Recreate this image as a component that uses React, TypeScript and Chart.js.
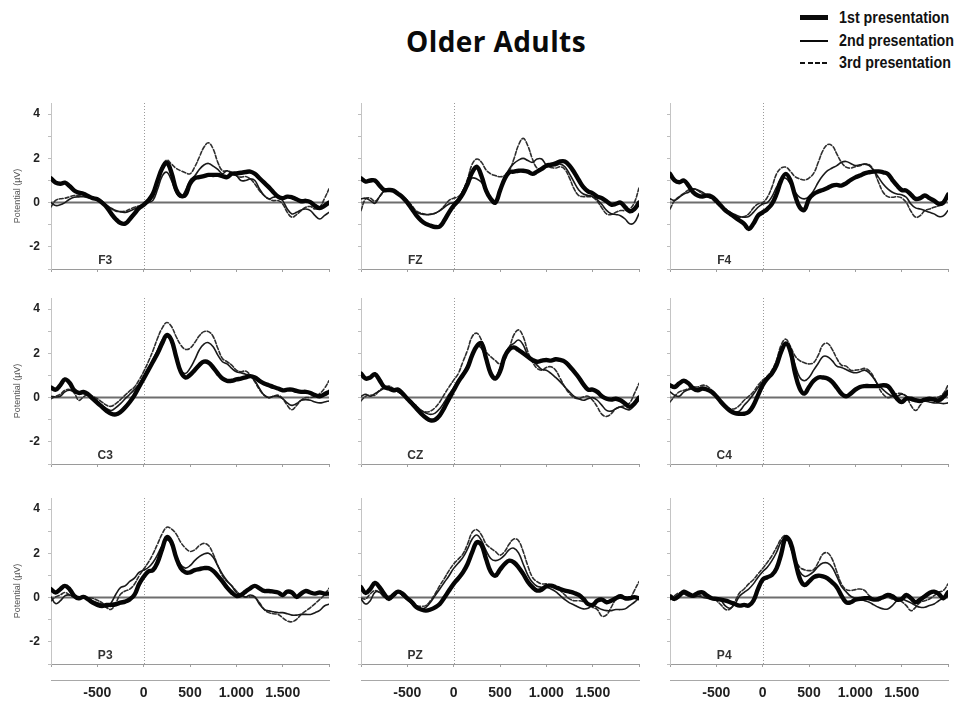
import React, { useEffect, useRef } from "react";
import { Chart, registerables } from "chart.js";

Chart.register(...registerables);

// ---------- DATA ----------
const TIMES_MS = [
  -1000, -950, -900, -850, -800, -750, -700, -650, -600, -550,
  -500, -450, -400, -350, -300, -250, -200, -150, -100, -50,
  0, 50, 100, 150, 200, 250, 300, 350, 400, 450,
  500, 550, 600, 650, 700, 750, 800, 850, 900, 950,
  1000, 1050, 1100, 1150, 1200, 1250, 1300, 1350, 1400, 1450,
  1500, 1550, 1600, 1650, 1700, 1750, 1800, 1850, 1900, 1950,
  2000,
];

const SERIES_LABELS = ["1st presentation", "2nd presentation", "3rd presentation"];
const TITLE = "Older Adults";
const Y_TITLE = "Potential (µV)";
const Y_TICK_VALUES = [4, 2, 0, -2];
const Y_TICK_LABELS = ["4", "2", "0", "-2"];
const X_TICK_VALUES = [-500, 0, 500, 1000, 1500];
const X_TICK_LABELS = ["-500", "0", "500", "1.000", "1.500"];
const ELECTRODES = ["F3", "FZ", "F4", "C3", "CZ", "C4", "P3", "PZ", "P4"];

const F3_1ST = [1.1,0.9,0.85,0.9,0.75,0.55,0.45,0.4,0.3,0.2, 0.15,0.0,-0.2,-0.5,-0.75,-0.92,-0.95,-0.75,-0.5,-0.25, -0.1,0.1,0.4,1.0,1.55,1.8,1.35,0.6,0.3,0.35, 0.85,1.1,1.15,1.2,1.25,1.25,1.25,1.2,1.15,1.3, 1.32,1.35,1.38,1.4,1.3,1.1,0.9,0.7,0.47,0.27, 0.2,0.27,0.24,0.15,0.06,0.08,0.02,-0.15,-0.25,-0.15, 0.0];
const F3_2ND = [0.0,-0.13,-0.1,0.0,0.15,0.24,0.26,0.27,0.22,0.18, 0.15,0.05,-0.13,-0.25,-0.36,-0.42,-0.44,-0.38,-0.29,-0.2, -0.1,0.0,0.1,0.6,1.2,1.37,1.0,0.47,0.24,0.54, 1.0,1.2,1.5,1.7,1.77,1.65,1.5,1.3,1.44,1.3, 1.22,1.0,1.0,1.07,1.0,0.62,0.32,0.17,0.24,0.27, 0.09,-0.29,-0.51,-0.44,-0.33,-0.29,-0.36,-0.59,-0.74,-0.59, -0.44];
const F3_3RD = [-0.2,0.1,0.17,0.2,0.26,0.32,0.33,0.36,0.3,0.22, 0.17,0.05,-0.13,-0.28,-0.39,-0.4,-0.39,-0.3,-0.21,-0.15, -0.09,0.05,0.24,0.92,1.67,1.92,1.74,1.55,1.44,1.35, 1.3,1.6,2.05,2.5,2.7,2.42,1.82,1.44,1.44,1.37, 1.22,1.15,1.18,1.07,0.84,0.54,0.32,0.17,0.09,0.09, -0.06,-0.44,-0.66,-0.54,-0.36,-0.21,-0.18,-0.29,-0.21,0.17, 0.62];

const FZ_1ST = [1.1,0.95,1.0,1.0,0.77,0.57,0.57,0.54,0.4,0.24, 0.0,-0.29,-0.59,-0.81,-0.96,-1.04,-1.1,-1.08,-0.8,-0.44, -0.14,0.09,0.4,0.84,1.37,1.62,1.2,0.54,0.17,0.0, 0.54,1.07,1.37,1.4,1.44,1.44,1.4,1.3,1.4,1.52, 1.67,1.71,1.77,1.86,1.86,1.67,1.37,1.02,0.7,0.51, 0.42,0.27,0.2,0.06,-0.09,-0.06,0.0,-0.2,-0.39,-0.29, 0.0];
const FZ_2ND = [0.17,0.2,0.09,-0.03,0.27,0.54,0.62,0.57,0.42,0.24, 0.0,-0.24,-0.44,-0.51,-0.54,-0.54,-0.48,-0.36,-0.21,-0.06, 0.0,0.17,0.54,0.92,1.11,1.07,0.92,0.54,0.2,0.09, 0.54,1.11,1.52,1.77,1.92,2.0,1.9,1.82,1.97,1.97, 1.7,1.67,1.67,1.74,1.62,1.3,0.92,0.57,0.39,0.32, 0.27,0.12,-0.09,-0.35,-0.5,-0.54,-0.59,-0.74,-0.96,-0.9, -0.5];
const FZ_3RD = [-0.36,0.17,0.2,0.06,0.27,0.5,0.6,0.54,0.42,0.27, 0.1,-0.14,-0.39,-0.48,-0.54,-0.52,-0.48,-0.36,-0.14,0.1, 0.2,0.27,0.54,1.07,1.74,1.97,1.82,1.47,1.3,1.22, 1.17,1.22,1.44,1.97,2.6,2.9,2.57,1.97,1.56,1.53, 1.62,1.59,1.56,1.62,1.5,1.11,0.62,0.32,0.27,0.27, 0.24,0.06,-0.24,-0.51,-0.54,-0.44,-0.36,-0.36,-0.29,0.0, 0.66];

const F4_1ST = [1.3,1.0,0.92,1.0,0.77,0.47,0.32,0.27,0.32,0.27, 0.09,-0.14,-0.36,-0.51,-0.66,-0.81,-0.96,-1.19,-0.96,-0.59, -0.44,-0.29,-0.06,0.39,1.0,1.3,1.0,0.32,-0.21,-0.33, 0.17,0.39,0.5,0.57,0.66,0.77,0.8,0.77,0.87,1.02, 1.14,1.22,1.32,1.37,1.4,1.41,1.37,1.3,1.02,0.77, 0.57,0.54,0.36,0.17,0.2,0.32,0.2,0.09,-0.06,0.0, 0.36];
const F4_2ND = [0.17,0.1,0.24,0.39,0.47,0.62,0.57,0.47,0.32,0.2, 0.0,-0.14,-0.29,-0.44,-0.54,-0.63,-0.66,-0.63,-0.44,-0.21, -0.06,0.0,0.27,0.7,1.07,1.1,0.84,0.47,0.24,0.17, 0.27,0.54,0.92,1.22,1.44,1.56,1.67,1.82,1.86,1.77, 1.67,1.71,1.74,1.67,1.44,1.14,0.84,0.62,0.47,0.39, 0.36,0.24,-0.06,-0.24,-0.29,-0.36,-0.44,-0.51,-0.63,-0.6, -0.36];
const F4_3RD = [-0.29,0.09,0.27,0.42,0.57,0.62,0.54,0.39,0.27,0.17, -0.03,-0.21,-0.39,-0.54,-0.63,-0.66,-0.63,-0.51,-0.24,-0.06, 0.0,0.24,0.7,1.3,1.56,1.6,1.41,1.17,1.07,1.02, 1.11,1.32,1.82,2.35,2.62,2.57,2.2,1.82,1.6,1.56, 1.62,1.67,1.74,1.71,1.44,0.92,0.47,0.27,0.24,0.27, 0.21,0.0,-0.39,-0.66,-0.59,-0.36,-0.29,-0.21,-0.14,0.0, 0.39];

const C3_1ST = [0.45,0.36,0.56,0.82,0.67,0.33,0.21,0.26,0.15,-0.05, -0.24,-0.42,-0.6,-0.73,-0.76,-0.65,-0.45,-0.2,0.1,0.48, 0.86,1.24,1.62,2.0,2.45,2.83,2.6,1.85,1.17,0.91, 1.02,1.24,1.47,1.62,1.58,1.36,1.09,0.86,0.76,0.76, 0.82,0.86,0.91,0.97,0.91,0.76,0.64,0.56,0.48,0.41, 0.33,0.36,0.36,0.3,0.26,0.26,0.21,0.11,0.06,0.15, 0.26];
const C3_2ND = [0.06,0.03,0.06,0.26,0.33,0.26,0.18,0.18,0.11,0.0, -0.15,-0.35,-0.5,-0.58,-0.45,-0.27,-0.05,0.15,0.36,0.6, 0.94,1.32,1.7,2.15,2.6,2.76,2.53,1.85,1.24,1.09, 1.32,1.7,2.15,2.42,2.48,2.3,1.92,1.62,1.52,1.32, 1.17,1.12,1.06,0.97,0.76,0.41,0.11,0.0,0.06,0.06, -0.05,-0.24,-0.35,-0.27,-0.12,-0.09,-0.12,-0.2,-0.24,-0.2, -0.15];
const C3_3RD = [-0.05,0.06,0.15,0.33,0.36,0.21,-0.12,0.03,0.15,0.06, -0.05,-0.2,-0.35,-0.39,-0.27,-0.09,0.11,0.3,0.48,0.79, 1.17,1.62,2.12,2.68,3.14,3.39,3.21,2.76,2.38,2.18, 2.23,2.48,2.79,2.98,2.98,2.76,2.23,1.77,1.62,1.47, 1.24,1.17,1.2,1.02,0.71,0.36,0.11,0.0,0.06,0.11, -0.05,-0.35,-0.55,-0.35,-0.12,0.0,0.0,0.06,0.18,0.41, 0.76];

const CZ_1ST = [1.09,0.86,0.91,1.06,0.79,0.48,0.41,0.33,0.36,0.18, -0.05,-0.27,-0.5,-0.73,-0.91,-1.03,-1.0,-0.8,-0.45,-0.05, 0.33,0.71,1.02,1.36,1.92,2.33,2.45,1.77,1.09,0.86, 1.17,1.85,2.18,2.27,2.15,2.0,1.85,1.7,1.62,1.67, 1.7,1.67,1.73,1.7,1.62,1.42,1.17,0.91,0.6,0.36, 0.36,0.26,0.06,-0.05,-0.09,-0.05,-0.12,-0.27,-0.42,-0.27, 0.0];
const CZ_2ND = [0.06,0.15,0.06,0.18,0.3,0.41,0.45,0.33,0.26,0.11, -0.05,-0.2,-0.39,-0.58,-0.7,-0.76,-0.7,-0.5,-0.2,0.15, 0.45,0.79,1.09,1.47,2.0,2.3,2.23,1.7,1.17,0.94, 1.32,1.92,2.3,2.45,2.6,2.38,1.92,1.67,1.47,1.27, 1.24,1.09,0.91,0.71,0.48,0.26,0.06,-0.05,-0.12,-0.05, 0.0,-0.12,-0.35,-0.58,-0.61,-0.5,-0.42,-0.5,-0.55,-0.35, -0.05];
const CZ_3RD = [-0.15,0.06,0.11,0.11,0.33,0.45,0.52,0.41,0.26,0.11, -0.05,-0.2,-0.39,-0.58,-0.65,-0.61,-0.45,-0.2,0.15,0.48, 0.79,1.09,1.62,2.15,2.76,2.91,2.6,2.08,1.85,1.67, 1.52,1.7,2.23,2.83,3.06,2.76,2.08,1.62,1.32,1.24, 1.36,1.39,1.24,0.86,0.48,0.18,0.0,-0.05,0.03,0.06, -0.12,-0.42,-0.76,-0.85,-0.73,-0.5,-0.42,-0.35,-0.24,0.18, 0.64];

const C4_1ST = [0.56,0.48,0.64,0.76,0.64,0.41,0.33,0.41,0.36,0.26, 0.06,-0.2,-0.42,-0.6,-0.7,-0.73,-0.73,-0.65,-0.35,0.11, 0.56,0.86,1.09,1.47,2.08,2.45,2.08,1.09,0.41,0.18, 0.48,0.76,0.91,0.91,0.86,0.71,0.45,0.18,0.06,0.18, 0.36,0.48,0.52,0.52,0.52,0.52,0.56,0.52,0.26,-0.05, -0.2,-0.05,-0.05,-0.12,-0.15,-0.09,-0.05,-0.09,-0.12,0.03, 0.26];
const C4_2ND = [0.26,0.11,0.06,0.26,0.36,0.41,0.41,0.45,0.36,0.26, 0.06,-0.12,-0.35,-0.55,-0.65,-0.61,-0.35,-0.12,0.15,0.45, 0.71,0.91,1.12,1.55,2.15,2.42,2.15,1.47,0.91,0.76, 0.91,1.24,1.55,1.85,1.85,1.67,1.42,1.36,1.27,1.17, 1.12,1.17,1.24,1.12,0.86,0.56,0.36,0.18,0.06,0.06, 0.15,0.06,-0.12,-0.15,-0.12,-0.15,-0.2,-0.24,-0.24,-0.27, -0.24];
const C4_3RD = [-0.2,0.06,0.26,0.33,0.41,0.48,0.48,0.56,0.52,0.33, 0.11,-0.15,-0.39,-0.5,-0.5,-0.35,-0.12,0.06,0.26,0.56, 0.79,0.97,1.24,1.7,2.38,2.64,2.3,1.88,1.67,1.58, 1.52,1.58,1.92,2.38,2.45,2.18,1.77,1.47,1.42,1.24, 1.24,1.27,1.32,1.21,0.91,0.48,0.15,0.0,0.06,0.18, 0.18,0.06,-0.35,-0.58,-0.35,-0.05,-0.05,0.0,0.03,0.18, 0.56];

const P3_1ST = [0.38,0.23,0.38,0.53,0.38,0.08,-0.03,0.03,-0.08,-0.23, -0.33,-0.38,-0.33,-0.33,-0.3,-0.23,-0.18,-0.08,0.12,0.6, 0.94,1.18,1.24,1.59,2.2,2.73,2.5,1.82,1.33,1.14, 1.14,1.24,1.29,1.33,1.33,1.21,0.98,0.73,0.45,0.23, 0.08,0.12,0.27,0.42,0.53,0.42,0.3,0.3,0.27,0.23, 0.12,0.27,0.23,0.03,0.18,0.3,0.23,0.18,0.23,0.18, 0.18];
const P3_2ND = [0.03,-0.27,-0.15,0.08,0.12,0.03,0.03,0.0,-0.03,-0.15, -0.23,-0.3,-0.45,-0.23,0.15,0.45,0.53,0.73,0.88,1.14, 1.24,1.36,1.59,1.94,2.35,2.6,2.42,1.89,1.48,1.33, 1.44,1.67,1.85,1.97,2.0,1.82,1.44,1.06,0.76,0.53, 0.23,0.12,0.03,0.12,0.03,-0.3,-0.53,-0.6,-0.64,-0.68, -0.68,-0.73,-0.79,-0.79,-0.76,-0.76,-0.76,-0.68,-0.58,-0.38, -0.3];
const P3_3RD = [-0.15,0.03,0.12,0.23,0.12,0.03,0.0,0.03,0.0,-0.03, -0.12,-0.23,-0.45,-0.53,-0.23,0.15,0.3,0.38,0.6,0.98, 1.29,1.59,1.97,2.42,2.88,3.18,3.1,2.88,2.5,2.24, 2.09,2.15,2.35,2.45,2.35,1.97,1.44,0.98,0.73,0.53, 0.3,0.12,0.03,0.03,0.0,-0.23,-0.53,-0.68,-0.73,-0.76, -0.91,-1.06,-1.09,-0.98,-0.76,-0.6,-0.45,-0.27,-0.08,0.12, 0.42];

const PZ_1ST = [0.47,0.21,0.39,0.66,0.47,0.17,-0.06,0.12,0.27,0.17, -0.03,-0.21,-0.44,-0.54,-0.59,-0.54,-0.44,-0.29,0.0,0.32, 0.62,0.87,1.14,1.52,2.05,2.5,2.38,1.74,1.17,0.99, 1.26,1.52,1.67,1.59,1.37,1.07,0.72,0.47,0.32,0.36, 0.51,0.54,0.47,0.39,0.32,0.27,0.21,0.12,-0.06,-0.29, -0.33,-0.14,-0.09,-0.21,-0.14,-0.03,0.06,-0.03,-0.03,0.02, -0.03];
const PZ_2ND = [-0.06,-0.29,-0.14,0.24,0.24,0.02,-0.03,0.06,0.24,0.09, -0.09,-0.29,-0.48,-0.51,-0.44,-0.21,0.09,0.39,0.69,0.99, 1.32,1.56,1.82,2.2,2.65,2.83,2.57,2.12,1.77,1.67, 1.74,1.92,2.17,2.23,2.02,1.52,1.02,0.69,0.51,0.47, 0.47,0.39,0.27,0.09,-0.09,-0.24,-0.33,-0.44,-0.51,-0.48, -0.36,-0.44,-0.54,-0.59,-0.59,-0.54,-0.54,-0.51,-0.36,-0.21, -0.03];
const PZ_3RD = [-0.03,-0.06,0.17,0.32,0.24,0.09,0.06,0.17,0.24,0.09, -0.03,-0.18,-0.36,-0.39,-0.36,-0.14,0.17,0.54,0.87,1.22, 1.52,1.74,1.97,2.42,2.95,3.07,2.83,2.42,2.23,2.08, 1.92,2.08,2.42,2.65,2.57,2.08,1.44,0.92,0.72,0.62, 0.62,0.57,0.47,0.32,0.12,-0.06,-0.14,-0.14,-0.18,-0.29, -0.44,-0.54,-0.84,-0.78,-0.44,-0.09,-0.03,-0.06,-0.03,0.32, 0.72];

const P4_1ST = [0.06,-0.06,0.09,0.27,0.17,0.09,0.21,0.24,0.09,-0.03, -0.06,-0.09,-0.14,-0.21,-0.29,-0.36,-0.33,-0.36,-0.14,0.39, 0.81,0.92,1.02,1.32,1.97,2.72,2.5,1.67,0.87,0.57, 0.72,0.92,0.99,0.96,0.87,0.69,0.47,0.09,-0.21,-0.21, -0.09,-0.06,-0.03,-0.03,-0.09,-0.06,0.02,0.12,0.06,-0.09, -0.06,0.12,-0.03,-0.21,-0.09,0.06,0.21,0.27,0.17,-0.03, 0.24];
const P4_2ND = [-0.03,0.02,0.12,0.17,0.06,0.02,0.06,0.02,-0.03,-0.06, -0.09,-0.14,-0.39,-0.48,-0.29,0.06,0.24,0.39,0.62,0.92, 1.17,1.37,1.67,2.05,2.53,2.72,2.27,1.67,1.17,0.96, 1.02,1.17,1.41,1.56,1.56,1.37,0.96,0.51,0.27,0.06, -0.03,-0.09,-0.14,-0.21,-0.33,-0.44,-0.51,-0.51,-0.36,-0.14, -0.06,-0.14,-0.24,-0.36,-0.44,-0.44,-0.36,-0.29,-0.14,-0.03, 0.06];
const P4_3RD = [-0.09,0.09,0.21,0.17,0.09,0.06,0.12,0.09,0.02,-0.06, -0.14,-0.33,-0.54,-0.51,-0.18,0.21,0.39,0.62,0.81,1.07, 1.32,1.59,1.89,2.27,2.65,2.8,2.35,1.74,1.37,1.26, 1.22,1.26,1.59,1.97,2.02,1.74,1.17,0.62,0.36,0.32, 0.36,0.39,0.32,0.09,-0.06,-0.14,-0.03,0.02,-0.06,-0.06, -0.18,-0.36,-0.59,-0.44,-0.21,-0.14,-0.06,0.09,0.24,0.32, 0.62];

const PANEL_SERIES: number[][][] = [
  [F3_1ST, F3_2ND, F3_3RD],
  [FZ_1ST, FZ_2ND, FZ_3RD],
  [F4_1ST, F4_2ND, F4_3RD],
  [C3_1ST, C3_2ND, C3_3RD],
  [CZ_1ST, CZ_2ND, CZ_3RD],
  [C4_1ST, C4_2ND, C4_3RD],
  [P3_1ST, P3_2ND, P3_3RD],
  [PZ_1ST, PZ_2ND, PZ_3RD],
  [P4_1ST, P4_2ND, P4_3RD],
];

// ---------- LAYOUT / STYLE ----------
const FONT = '"Liberation Sans", Arial, sans-serif';
const COL_LEFT = [51, 361, 670];
const ROW_TOP = [103, 298, 498];
const PLOT_W = 278;
const PLOT_H = 166;
const Y_AXIS_W = 51;
const PAD_T = 20;
const PAD_R = 8;
const X_AXIS_H = 20;
const X_AXIS_H_BOTTOM = 16;
const X2_AXIS_H = 26;
const LABEL_TIME = -415;
const LABEL_VALUE = -2.62;

const SERIES_STYLE = [
  { color: "#050505", width: 4.4, dash: [] as number[] },
  { color: "#1a1a1a", width: 1.6, dash: [] as number[] },
  { color: "#2e2e2e", width: 1.6, dash: [4, 2] },
];

const refLinesPlugin = {
  id: "refLines",
  beforeDatasetsDraw(chart: any, _args: any, opts: any) {
    const { ctx, chartArea } = chart;
    const { left, right, top, bottom } = chartArea;
    const xs = chart.scales.x;
    const ys = chart.scales.y;
    ctx.save();
    const x0 = Math.round(xs.getPixelForValue(0)) + 0.5;
    ctx.strokeStyle = "#9a9a9a";
    ctx.lineWidth = 1;
    ctx.setLineDash([1, 2]);
    ctx.beginPath();
    ctx.moveTo(x0, top);
    ctx.lineTo(x0, bottom);
    ctx.stroke();
    ctx.setLineDash([]);
    ctx.strokeStyle = "#6e6e6e";
    ctx.lineWidth = 2;
    const y0 = ys.getPixelForValue(0);
    ctx.beginPath();
    ctx.moveTo(left, y0);
    ctx.lineTo(right, y0);
    ctx.stroke();
    ctx.font = `bold 12px ${FONT}`;
    ctx.fillStyle = "#333";
    ctx.textAlign = "center";
    ctx.textBaseline = "middle";
    ctx.fillText(opts.label, xs.getPixelForValue(LABEL_TIME), ys.getPixelForValue(LABEL_VALUE));
    ctx.restore();
  },
};

function Panel({ index }: { index: number }) {
  const ref = useRef<HTMLCanvasElement>(null);
  const row = Math.floor(index / 3);
  const col = index % 3;
  const isBottom = row === 2;
  const isLeft = col === 0;
  const w = Y_AXIS_W + PLOT_W + PAD_R;
  const h = PAD_T + PLOT_H + (isBottom ? X_AXIS_H_BOTTOM + X2_AXIS_H : X_AXIS_H);
  const left = COL_LEFT[col] - Y_AXIS_W;
  const top = ROW_TOP[row] - PAD_T;

  useEffect(() => {
    const series = PANEL_SERIES[index];
    const datasets = series.map((vals, si) => ({
      label: SERIES_LABELS[si],
      data: TIMES_MS.map((t, i) => ({ x: t, y: vals[i] })),
      borderColor: SERIES_STYLE[si].color,
      borderWidth: SERIES_STYLE[si].width,
      borderDash: SERIES_STYLE[si].dash,
      borderCapStyle: "round",
      borderJoinStyle: "round",
      pointRadius: 0,
      tension: 0.4,
      fill: false,
    }));

    const scales: any = {
      x: {
        type: "linear",
        position: "bottom",
        min: -1000,
        max: 2000,
        weight: 0,
        ticks: { display: false, stepSize: 500 },
        grid: { drawOnChartArea: false, drawTicks: true, tickLength: 3, color: "#a0a0a0" },
        border: { color: "#9a9a9a", width: 1 },
        afterFit: (s: any) => {
          s.height = isBottom ? X_AXIS_H_BOTTOM : X_AXIS_H;
        },
      },
      y: {
        type: "linear",
        position: "left",
        min: -3,
        max: 4.5,
        ticks: {
          stepSize: 1,
          includeBounds: false,
          padding: 8,
          color: "#222",
          font: { family: FONT, size: 12, weight: "bold" },
          callback: (v: number) => {
            if (!isLeft) return "";
            const k = Y_TICK_VALUES.indexOf(v);
            return k >= 0 ? Y_TICK_LABELS[k] : "";
          },
        },
        grid: { drawOnChartArea: false, drawTicks: true, tickLength: 3, color: "#bdbdbd" },
        border: { color: "#c4c4c4", width: 1 },
        title: {
          display: isLeft,
          text: Y_TITLE + "        ",
          color: "#555",
          font: { family: FONT, size: 9 },
          padding: { top: 12, bottom: 0 },
        },
        afterFit: (s: any) => {
          s.width = Y_AXIS_W;
        },
      },
    };
    if (isBottom) {
      scales.x2 = {
        type: "linear",
        position: "bottom",
        min: -1000,
        max: 2000,
        weight: 1,
        ticks: {
          stepSize: 500,
          autoSkip: false,
          maxRotation: 0,
          padding: 5,
          color: "#222",
          font: { family: FONT, size: 14, weight: "bold" },
          callback: (v: number) => {
            const k = X_TICK_VALUES.indexOf(v);
            return k >= 0 ? X_TICK_LABELS[k] : "";
          },
        },
        grid: { drawOnChartArea: false, drawTicks: false },
        border: { color: "#a8a8a8", width: 1 },
        afterFit: (s: any) => {
          s.height = X2_AXIS_H;
        },
      };
    }

    const chart = new Chart(ref.current as HTMLCanvasElement, {
      type: "line",
      data: { datasets } as any,
      options: {
        animation: false,
        responsive: false,
        maintainAspectRatio: false,
        layout: { padding: { top: PAD_T, right: PAD_R, left: 0, bottom: 0 } },
        plugins: {
          legend: { display: false },
          tooltip: { enabled: false },
          refLines: { label: ELECTRODES[index] },
        } as any,
        scales,
      },
      plugins: [refLinesPlugin],
    });
    return () => chart.destroy();
  }, [index]);

  return (
    <canvas
      ref={ref}
      width={w}
      height={h}
      style={{ position: "absolute", left, top, width: w, height: h }}
    />
  );
}

function LegendRow({ y, kind, text }: { y: number; kind: number; text: string }) {
  const hgt = kind === 0 ? 5 : 2;
  const bg =
    kind === 2
      ? "repeating-linear-gradient(to right, #111 0px, #111 5px, transparent 5px, transparent 7.5px)"
      : "#0a0a0a";
  return (
    <>
      <div
        style={{
          position: "absolute",
          left: 800,
          top: y - hgt / 2,
          width: 28,
          height: hgt,
          background: bg,
        }}
      />
      <div
        style={{
          position: "absolute",
          left: 839,
          top: y - 11,
          height: 22,
          lineHeight: "22px",
          fontFamily: FONT,
          fontWeight: "bold",
          fontSize: 17,
          color: "#111",
          whiteSpace: "nowrap",
          transform: "scaleX(0.84)",
          transformOrigin: "left center",
        }}
      >
        {text}
      </div>
    </>
  );
}

export default function App() {
  return (
    <div
      style={{
        position: "absolute",
        left: 0,
        top: 0,
        width: 956,
        height: 702,
        background: "#fff",
        overflow: "hidden",
      }}
    >
      <div
        style={{
          position: "absolute",
          left: 296,
          top: 22,
          width: 400,
          height: 38,
          lineHeight: "38px",
          textAlign: "center",
          fontFamily: '"Open Sans", sans-serif',
          fontWeight: 700,
          fontSize: 28,
          letterSpacing: 0.4,
          color: "#0a0a0a",
        }}
      >
        {TITLE}
      </div>
      <LegendRow y={17.5} kind={0} text={SERIES_LABELS[0]} />
      <LegendRow y={40.5} kind={1} text={SERIES_LABELS[1]} />
      <LegendRow y={63} kind={2} text={SERIES_LABELS[2]} />
      {ELECTRODES.map((_, i) => (
        <Panel key={i} index={i} />
      ))}
    </div>
  );
}
